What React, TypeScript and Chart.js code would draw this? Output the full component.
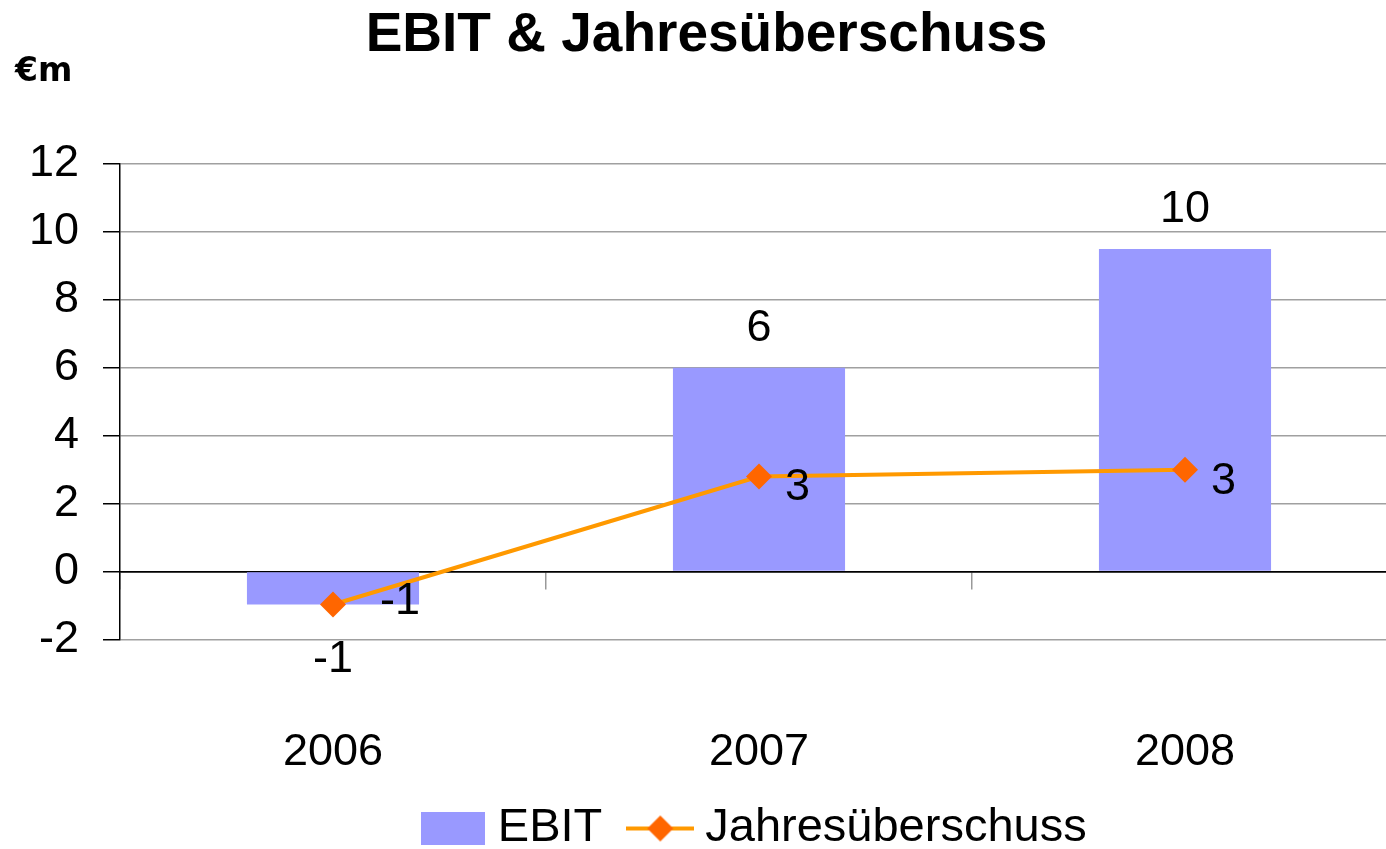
import React, { useEffect, useRef } from 'react';
import { Chart, registerables } from 'chart.js';

Chart.register(...registerables);

// ---- data ----
const categories = ['2006', '2007', '2008'];
const ebitValues = [-0.97, 6.0, 9.5];
const netIncomeValues = [-0.97, 2.8, 3.0];
const seriesNames = ['EBIT', 'Jahresüberschuss'];
const yMin = -2;
const yMax = 12;
const yStep = 2;
const titleText = 'EBIT & Jahresüberschuss';
const unitText = '€m';

// ---- style ----
const FONT = '"Liberation Sans", Arial, Helvetica, sans-serif';
const UNIT_FONT = '"DejaVu Sans", "Liberation Sans", Arial, sans-serif';
const BAR_COLOR = '#9999FF';
const LINE_COLOR = '#FF9900';
const MARKER_COLOR = '#FF6600';
const GRID_COLOR = '#a0a0a0';
const LABEL_SIZE = 45;
const LEGEND_SIZE = 47;
const CANVAS_W = 1400;
const CANVAS_H = 862;
// label offsets (dx, baseline dy) relative to each line point
const lineLabelOffsets = [
  [47, 9],
  [26, 24],
  [26, 24],
];

function makeBoxIcon(): HTMLCanvasElement {
  const c = document.createElement('canvas');
  c.width = 64;
  c.height = 33;
  const g = c.getContext('2d')!;
  g.fillStyle = BAR_COLOR;
  g.fillRect(0, 0, 64, 33);
  return c;
}

function makeLineIcon(): HTMLCanvasElement {
  const c = document.createElement('canvas');
  c.width = 68;
  c.height = 28;
  const g = c.getContext('2d')!;
  g.strokeStyle = LINE_COLOR;
  g.lineWidth = 4;
  g.beginPath();
  g.moveTo(0, 14);
  g.lineTo(68, 14);
  g.stroke();
  g.fillStyle = MARKER_COLOR;
  g.beginPath();
  g.moveTo(34 - 13, 14);
  g.lineTo(34, 1);
  g.lineTo(34 + 13, 14);
  g.lineTo(34, 27);
  g.closePath();
  g.fill();
  return c;
}

const dataLabelPlugin = {
  id: 'dataLabels',
  afterDatasetsDraw(chart: any) {
    const ctx = chart.ctx as CanvasRenderingContext2D;
    ctx.save();
    ctx.font = `${LABEL_SIZE}px ${FONT}`;
    ctx.fillStyle = '#000';
    ctx.textBaseline = 'alphabetic';
    const barMeta = chart.getDatasetMeta(0);
    barMeta.data.forEach((el: any, i: number) => {
      const v = ebitValues[i];
      const txt = String(Math.round(v));
      ctx.textAlign = 'center';
      if (v >= 0) ctx.fillText(txt, el.x, el.y - 27);
      else ctx.fillText(txt, el.x, el.y + 67);
    });
    const lineMeta = chart.getDatasetMeta(1);
    lineMeta.data.forEach((el: any, i: number) => {
      const txt = String(Math.round(netIncomeValues[i]));
      ctx.textAlign = 'left';
      ctx.fillText(txt, el.x + lineLabelOffsets[i][0], el.y + lineLabelOffsets[i][1]);
    });
    ctx.restore();
  },
};

export default function App() {
  const ref = useRef<HTMLCanvasElement>(null);

  useEffect(() => {
    if (!ref.current) return;
    Chart.defaults.font.family = FONT;
    const boxIcon = makeBoxIcon();
    const lineIcon = makeLineIcon();
    const chart = new Chart(ref.current, {
      type: 'bar',
      data: {
        labels: categories,
        datasets: [
          {
            type: 'bar',
            label: seriesNames[0],
            data: ebitValues,
            backgroundColor: BAR_COLOR,
            borderWidth: 0,
            barPercentage: 0.404,
            categoryPercentage: 1,
            xAxisID: 'x',
            yAxisID: 'y',
            order: 2,
          } as any,
          {
            type: 'line',
            label: seriesNames[1],
            data: netIncomeValues,
            borderColor: LINE_COLOR,
            borderWidth: 4,
            backgroundColor: MARKER_COLOR,
            pointStyle: 'rectRot',
            pointRadius: 13,
            pointHoverRadius: 13,
            pointBackgroundColor: MARKER_COLOR,
            pointBorderColor: MARKER_COLOR,
            pointBorderWidth: 0,
            tension: 0,
            fill: false,
            xAxisID: 'x',
            yAxisID: 'y',
            order: 1,
          } as any,
        ],
      },
      options: {
        animation: false,
        responsive: false,
        events: [],
        layout: { autoPadding: false, padding: { left: 15, right: 2, top: 0, bottom: 0 } },
        scales: {
          x: {
            type: 'category',
            position: { y: 0 } as any,
            offset: true,
            grid: {
              offset: true,
              drawOnChartArea: false,
              drawTicks: true,
              tickLength: 17,
              color: '#999',
              lineWidth: 1.5,
            },
            border: { display: true, color: '#000', width: 1.5 },
            ticks: { display: false },
            afterFit: (s: any) => {
              s.paddingLeft = 0;
              s.paddingRight = 0;
            },
          } as any,
          x2: {
            type: 'category',
            position: 'bottom',
            offset: true,
            grid: { display: false, drawTicks: false },
            border: { display: false },
            ticks: {
              color: '#000',
              font: { family: FONT, size: LABEL_SIZE },
              padding: 86.5,
            },
            afterFit: (s: any) => {
              s.height = 129;
              s.paddingLeft = 0;
              s.paddingRight = 0;
            },
          } as any,
          y: {
            type: 'linear',
            min: yMin,
            max: yMax,
            ticks: {
              stepSize: yStep,
              color: '#000',
              font: { family: FONT, size: LABEL_SIZE },
              padding: 24,
            },
            grid: {
              color: (c: any) => (c.tick && c.tick.value === 0 ? '#000' : GRID_COLOR),
              tickColor: '#000',
              tickLength: 17,
              lineWidth: 1.5,
            },
            border: { display: true, color: '#000', width: 1.5 },
            afterFit: (s: any) => {
              s.width = 105;
            },
          } as any,
        },
        plugins: {
          tooltip: { enabled: false },
          title: {
            display: true,
            text: titleText,
            color: '#000',
            font: { family: FONT, size: 55, weight: 'bold', lineHeight: 1.0 },
            padding: { top: 8, bottom: 0 },
          },
          subtitle: {
            display: true,
            text: unitText,
            align: 'start',
            color: '#000',
            font: { family: UNIT_FONT, size: 33, weight: 'bold', lineHeight: 0.6 },
            padding: { top: 0, bottom: 81.2 },
          },
          legend: {
            display: true,
            position: 'bottom',
            fullSize: false,
            align: 'center',
            labels: {
              color: '#000',
              font: { family: FONT, size: LEGEND_SIZE },
              usePointStyle: true,
              pointStyleWidth: 43,
              padding: 36.5,
              generateLabels: () => [
                {
                  text: seriesNames[0],
                  fillStyle: BAR_COLOR,
                  strokeStyle: BAR_COLOR,
                  lineWidth: 0,
                  pointStyle: boxIcon,
                  hidden: false,
                  datasetIndex: 0,
                  fontColor: '#000',
                } as any,
                {
                  text: seriesNames[1],
                  fillStyle: MARKER_COLOR,
                  strokeStyle: LINE_COLOR,
                  lineWidth: 0,
                  pointStyle: lineIcon,
                  hidden: false,
                  datasetIndex: 1,
                  fontColor: '#000',
                } as any,
              ],
            },
          } as any,
        },
      },
      plugins: [dataLabelPlugin],
    });
    return () => chart.destroy();
  }, []);

  return (
    <div
      style={{
        position: 'absolute',
        left: 0,
        top: 0,
        width: 1386,
        height: 849,
        overflow: 'hidden',
        background: '#fff',
      }}
    >
      <div style={{ position: 'relative', width: CANVAS_W, height: CANVAS_H }}>
        <canvas
          ref={ref}
          width={CANVAS_W}
          height={CANVAS_H}
          style={{ display: 'block', width: CANVAS_W, height: CANVAS_H }}
        />
      </div>
    </div>
  );
}
